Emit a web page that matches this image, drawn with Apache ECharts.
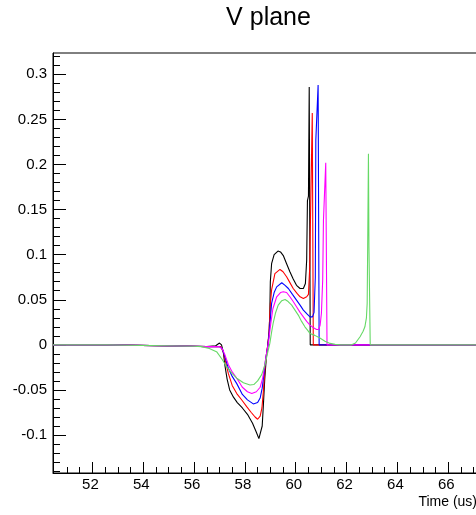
<!DOCTYPE html>
<html>
<head>
<meta charset="utf-8">
<title>V plane</title>
<script src="https://cdn.jsdelivr.net/npm/echarts@6/dist/echarts.min.js"></script>
<style>
  html, body { margin: 0; padding: 0; background: #fff; overflow: hidden; }
  #chart { width: 537px; height: 515px; }
</style>
</head>
<body>
<div id="chart"></div>
<script>
// Waveform samples per channel: [time (us), amplitude]
const black = [
  [50.45,0],[52.57,0],[52.6,-0.0015],[56.0,-0.0015],[56.5,-0.002],[56.85,-0.001],[57.0,0.002],
  [57.08,0.0],[57.15,-0.008],[57.22,-0.024],[57.3,-0.038],[57.4,-0.05],[57.55,-0.058],[57.7,-0.064],
  [57.9,-0.07],[58.1,-0.077],[58.3,-0.087],[58.45,-0.097],[58.55,-0.104],[58.62,-0.102],[58.68,-0.09],
  [58.73,-0.065],[58.78,-0.038],[58.84,-0.015],[58.9,0.0],[58.95,0.012],[58.98,0.035],[59.0,0.07],
  [59.05,0.09],[59.15,0.1],[59.3,0.104],[59.4,0.103],[59.51,0.099],[59.64,0.09],[59.77,0.081],
  [59.9,0.073],[60.03,0.066],[60.17,0.0625],[60.3,0.0625],[60.38,0.068],[60.43,0.094],[60.46,0.16],
  [60.5,0.165],[60.53,0.286],[60.57,0.0],[67.2,0]
];
const red = [
  [50.45,0],[52.57,0],[52.6,-0.0015],[56.0,-0.0015],[56.5,-0.002],[57.05,-0.002],[57.15,-0.008],
  [57.25,-0.02],[57.35,-0.032],[57.5,-0.045],[57.68,-0.054],[57.9,-0.062],[58.07,-0.0685],[58.25,-0.075],
  [58.4,-0.08],[58.5,-0.0825],[58.6,-0.079],[58.67,-0.07],[58.73,-0.05],[58.78,-0.03],[58.84,-0.012],
  [58.9,0.0],[58.95,0.015],[59.0,0.045],[59.05,0.061],[59.18,0.079],[59.38,0.0836],[59.5,0.081],
  [59.64,0.0755],[59.77,0.069],[59.9,0.0625],[60.05,0.057],[60.17,0.0533],[60.3,0.0514],[60.43,0.0533],
  [60.5,0.056],[60.55,0.086],[60.58,0.14],[60.62,0.14],[60.65,0.257],[60.69,0.0],[67.2,0]
];
const blue = [
  [50.45,0],[52.57,0],[52.6,-0.0015],[56.0,-0.0015],[56.5,-0.002],[57.0,-0.002],[57.1,-0.004],
  [57.2,-0.012],[57.35,-0.026],[57.5,-0.035],[57.68,-0.043],[57.9,-0.055],[58.1,-0.061],[58.33,-0.0655],
  [58.5,-0.064],[58.6,-0.059],[58.68,-0.048],[58.75,-0.032],[58.82,-0.015],[58.9,-0.002],[58.96,0.015],
  [59.05,0.046],[59.15,0.058],[59.25,0.0643],[59.45,0.0688],[59.58,0.066],[59.71,0.0625],[59.87,0.056],
  [60.03,0.0496],[60.17,0.044],[60.3,0.0385],[60.45,0.034],[60.56,0.031],[60.66,0.031],[60.72,0.036],
  [60.77,0.075],[60.79,0.227],[60.84,0.227],[60.88,0.288],[60.92,0.0],[67.2,0]
];
const magenta = [
  [50.45,0],[52.57,0],[52.6,-0.0015],[56.0,-0.0015],[56.5,-0.002],[57.0,-0.002],[57.1,-0.004],
  [57.2,-0.01],[57.35,-0.022],[57.5,-0.03],[57.68,-0.037],[57.9,-0.047],[58.1,-0.052],[58.27,-0.054],
  [58.45,-0.052],[58.6,-0.047],[58.7,-0.037],[58.78,-0.022],[58.86,-0.008],[58.93,0.003],[59.0,0.02],
  [59.1,0.04],[59.25,0.0533],[59.4,0.058],[59.51,0.0588],[59.64,0.058],[59.77,0.0533],[59.9,0.048],
  [60.03,0.0422],[60.17,0.036],[60.3,0.031],[60.43,0.026],[60.56,0.0219],[60.7,0.019],[60.82,0.017],
  [60.9,0.017],[60.96,0.022],[61.01,0.035],[61.06,0.072],[61.09,0.138],[61.13,0.14],[61.18,0.202],
  [61.23,0.0],[67.2,0]
];
const green = [
  [50.45,0],[52.57,0],[52.6,-0.0015],[56.0,-0.0015],[56.3,-0.002],[56.6,-0.004],[56.9,-0.008],
  [57.1,-0.016],[57.3,-0.025],[57.5,-0.032],[57.68,-0.037],[57.94,-0.042],[58.2,-0.0446],[58.35,-0.044],
  [58.5,-0.04],[58.66,-0.033],[58.79,-0.022],[58.9,-0.008],[58.98,0.0016],[59.05,0.014],[59.11,0.0238],
  [59.2,0.035],[59.31,0.044],[59.45,0.049],[59.58,0.0503],[59.7,0.048],[59.84,0.044],[59.97,0.0385],
  [60.1,0.033],[60.23,0.026],[60.36,0.02],[60.47,0.016],[60.56,0.0127],[60.75,0.0105],[60.95,0.0075],
  [61.15,0.004],[61.35,0.0016],[61.55,0.0005],[61.74,0],[62.2,0],[62.35,0.002],[62.53,0.009],
  [62.65,0.015],[62.72,0.02],[62.78,0.03],[62.81,0.046],[62.83,0.11],[62.86,0.212],[62.88,0.108],
  [62.92,0.108],[62.93,0],[67.2,0]
];

// Axis ranges and tick positions
const xRange = [50.45, 67.17];
const yRange = [-0.1421, 0.3236];
const xMajor = [52, 54, 56, 58, 60, 62, 64, 66];
const xMinor = [51, 51.5, 52.5, 53, 53.5, 54.5, 55, 55.5, 56.5, 57, 57.5, 58.5, 59, 59.5,
                60.5, 61, 61.5, 62.5, 63, 63.5, 64.5, 65, 65.5, 66.5, 67];
const yMajor = [-0.1, -0.05, 0, 0.05, 0.1, 0.15, 0.2, 0.25, 0.3];
const yMinor = [-0.14, -0.13, -0.12, -0.11, -0.09, -0.08, -0.07, -0.06, -0.04, -0.03, -0.02, -0.01,
                0.01, 0.02, 0.03, 0.04, 0.06, 0.07, 0.08, 0.09, 0.11, 0.12, 0.13, 0.14,
                0.16, 0.17, 0.18, 0.19, 0.21, 0.22, 0.23, 0.24, 0.26, 0.27, 0.28, 0.29, 0.31, 0.32];

const seriesList = [
  { name: 'ch0', data: black, color: '#000000' },
  { name: 'ch1', data: red, color: '#ff0000' },
  { name: 'ch2', data: blue, color: '#0000ff' },
  { name: 'ch3', data: magenta, color: '#ff00ff' },
  { name: 'ch4', data: green, color: '#66d966' }
];

const FONT = 'Liberation Sans, Arial, Helvetica, sans-serif';

const chart = echarts.init(document.getElementById('chart'), null, { renderer: 'canvas' });

function majorAxis(type, range, major, fmt, extra) {
  return Object.assign({
    type: 'value',
    min: range[0],
    max: range[1],
    axisLine: { show: true, onZero: false, lineStyle: { color: '#000', width: 1 } },
    axisTick: { show: true, inside: true, customValues: major, length: type === 'x' ? 11 : 13,
                lineStyle: { color: '#000', width: 1 } },
    axisLabel: { show: true, customValues: major, color: '#000', fontSize: 15, fontFamily: FONT,
                 formatter: fmt },
    splitLine: { show: false },
    minorTick: { show: false }
  }, extra);
}

function minorAxis(type, range, minor, extra) {
  return Object.assign({
    type: 'value',
    min: range[0],
    max: range[1],
    axisLine: { show: false, onZero: false },
    axisTick: { show: true, inside: true, customValues: minor, length: type === 'x' ? 6 : 7,
                lineStyle: { color: '#000', width: 1 } },
    axisLabel: { show: false },
    splitLine: { show: false }
  }, extra);
}

const fmtNum = v => String(parseFloat(v.toFixed(2)));

chart.setOption({
  animation: false,
  backgroundColor: '#ffffff',
  title: [
    { text: 'V plane', left: 'center', top: 6, padding: 0,
      textStyle: { fontSize: 25, fontWeight: 'normal', color: '#000', fontFamily: FONT } },
    { text: 'Time (us)', right: 60, top: 495, padding: 0,
      textStyle: { fontSize: 14, fontWeight: 'normal', color: '#000', fontFamily: FONT } }
  ],
  grid: {
    left: 53, top: 53, right: 59, bottom: 42,
    show: true, borderColor: '#000', borderWidth: 1, backgroundColor: 'transparent',
    containLabel: false, outerBoundsMode: 'none'
  },
  xAxis: [
    majorAxis('x', xRange, xMajor, fmtNum,
      { position: 'bottom', axisLabel: { show: true, customValues: xMajor, color: '#000', fontSize: 15,
        fontFamily: FONT, formatter: fmtNum, margin: 4, padding: [0, 4, 0, 0] } }),
    minorAxis('x', xRange, xMinor, { position: 'bottom' })
  ],
  yAxis: [
    majorAxis('y', yRange, yMajor, fmtNum,
      { position: 'left', axisLabel: { show: true, customValues: yMajor, color: '#000', fontSize: 15,
        fontFamily: FONT, formatter: fmtNum, margin: 6 } }),
    minorAxis('y', yRange, yMinor, { position: 'left', offset: 0 })
  ],
  series: seriesList.map(s => ({
    name: s.name,
    type: 'line',
    xAxisIndex: 0,
    yAxisIndex: 0,
    data: s.data,
    symbol: 'none',
    smooth: false,
    clip: true,
    lineStyle: { color: s.color, width: 1.1 },
    itemStyle: { color: s.color },
    emphasis: { disabled: true }
  }))
});
</script>
</body>
</html>
